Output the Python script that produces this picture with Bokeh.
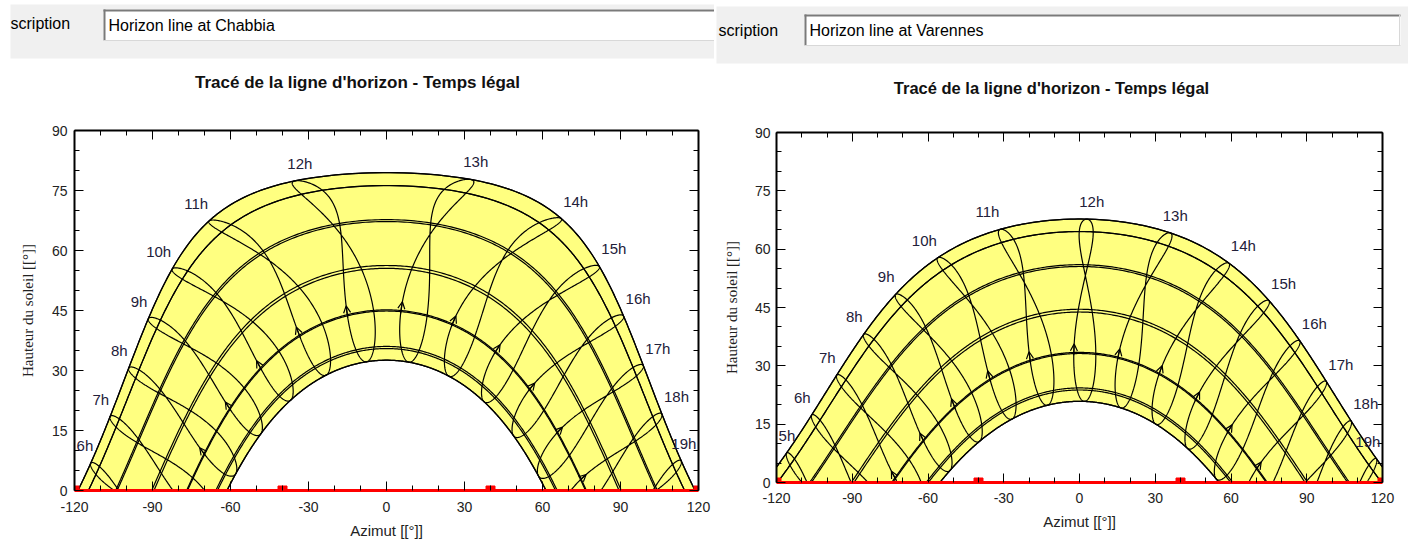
import numpy as np
from bokeh.plotting import figure
from bokeh.models import (Range1d, LinearAxis, FixedTicker, ColumnDataSource,
                          LabelSet, Arrow, OpenHead)
from bokeh.layouts import column, row
from bokeh.core.properties import value
from bokeh.embed import file_html
from bokeh.resources import INLINE

# ---------------- data ----------------
header_label = "scription"
site_descriptions = ["Horizon line at Chabbia", "Horizon line at Varennes"]
chart_title = "Tracé de la ligne d'horizon - Temps légal"
x_label = "Azimut [[°]]"
y_label = "Hauteur du soleil [[°]]"

site_latitudes = [34.0, 45.7]        # deg N (read from noon heights of the June / December paths)
site_time_shift_min = [-30.0, 6.3]   # legal time -> solar time longitude shift, minutes

# sun-path lines (day of year): 22 Jun, 22 May / 23 Jul, 20 Apr / 23 Aug,
# 20 Mar / 23 Sep, 21 Feb / 23 Oct, 19 Jan / 22 Nov, 22 Dec
path_days = [173, 142, 204, 110, 235, 79, 266, 52, 296, 19, 326, 356]
summer_day = 173
winter_day = 356
hour_lines = [4, 5, 6, 7, 8, 9, 10, 11, 12, 13, 14, 15, 16, 17, 18, 19, 20]
hour_label_sets = [[6, 7, 8, 9, 10, 11, 12, 13, 14, 15, 16, 17, 18, 19],
                   [5, 6, 7, 8, 9, 10, 11, 12, 13, 14, 15, 16, 17, 18, 19]]
arrow_days = [50, 58]

x_ticks = [-120, -90, -60, -30, 0, 30, 60, 90, 120]
x_tick_labels = ["-120", "-90", "-60", "-30", "0", "30", "60", "90", "120"]
x_minor = [-110, -100, -80, -70, -50, -40, -20, -10, 10, 20, 40, 50, 70, 80, 100, 110]
y_ticks = [0, 15, 30, 45, 60, 75, 90]
y_tick_labels = ["0", "15", "30", "45", "60", "75", "90"]
y_minor = [5, 10, 20, 25, 35, 40, 50, 55, 65, 70, 80, 85]
horizon_az = [-120, -40, 40, 120]
horizon_h = [0, 0, 0, 0]

FONT = "Liberation Sans"
FILL = "#ffff80"


def no_align(fig):
    if "frame_align" in fig.properties():
        fig.frame_align = False
    return fig


# ---------------- solar geometry ----------------
def declination(n):
    g = 2 * np.pi * (np.asarray(n, dtype=float) - 1) / 365.0
    d = (0.006918 - 0.399912 * np.cos(g) + 0.070257 * np.sin(g)
         - 0.006758 * np.cos(2 * g) + 0.000907 * np.sin(2 * g)
         - 0.002697 * np.cos(3 * g) + 0.00148 * np.sin(3 * g))
    return np.degrees(d)


def equation_of_time(n):
    g = 2 * np.pi * (np.asarray(n, dtype=float) - 1) / 365.0
    return 229.18 * (0.000075 + 0.001868 * np.cos(g) - 0.032077 * np.sin(g)
                     - 0.014615 * np.cos(2 * g) - 0.040849 * np.sin(2 * g))


def sun_position(lat, dec, H):
    phi, d, h = np.radians(lat), np.radians(dec), np.radians(H)
    sa = np.sin(phi) * np.sin(d) + np.cos(phi) * np.cos(d) * np.cos(h)
    alt = np.degrees(np.arcsin(np.clip(sa, -1, 1)))
    az = np.degrees(np.arctan2(np.sin(h), np.cos(h) * np.sin(phi) - np.tan(d) * np.cos(phi)))
    return az, alt


def hour_angle(n, legal_hour, shift):
    solar = legal_hour + (shift + equation_of_time(n)) / 60.0
    return 15.0 * (solar - 12.0)


def day_path(lat, n, npts=400):
    dec = declination(n)
    c = -np.tan(np.radians(lat)) * np.tan(np.radians(dec))
    H0 = np.degrees(np.arccos(np.clip(c, -1, 1)))
    H = np.linspace(-H0, H0, npts)
    az, alt = sun_position(lat, dec, H)
    return az, np.maximum(alt, 0)


# ---------------- headers (one per panel) ----------------
def make_header(x0, x1, height, band, box, label_pos, desc_pos, desc, title_pos, title_size):
    h = figure(width=x1 - x0, height=height, x_range=Range1d(x0, x1), y_range=Range1d(height, 0),
               output_backend="svg", toolbar_location=None, min_border=0,
               x_axis_location=None, y_axis_location=None)
    no_align(h)
    h.grid.visible = False
    h.outline_line_color = None
    h.quad(left=[band[0]], right=[band[1]], top=[band[2]], bottom=[band[3]],
           fill_color="#f0f0f0", line_color=None)
    bl, br, bt, bb = box
    h.quad(left=[bl], right=[br], top=[bt], bottom=[bb], fill_color="white", line_color=None)
    h.segment(x0=[bl, bl + 1], y0=[bt + 1, bt], x1=[br, bl + 1], y1=[bt + 1, bb],
              line_color="#7a7a7a", line_width=2)
    h.segment(x0=[bl, br - 1], y0=[bb, bt], x1=[br, br - 1], y1=[bb, bb],
              line_color="#d8d8d8", line_width=1)
    h.text(x=[label_pos[0]], y=[label_pos[1]], text=[header_label],
           text_font=value(FONT), text_font_size="16px", text_baseline="middle",
           text_align="left", text_color="#000000")
    h.text(x=[desc_pos[0]], y=[desc_pos[1]], text=[desc],
           text_font=value(FONT), text_font_size="16px", text_baseline="middle",
           text_align="left", text_color="#000000")
    h.text(x=[title_pos[0]], y=[title_pos[1]], text=[chart_title], text_font=value(FONT),
           text_font_size=title_size, text_font_style="bold", text_baseline="middle",
           text_align="center", text_color="#111111")
    return h


hdr_left = make_header(0, 714, 100, (10, 714, 4, 58), (103, 730, 9, 40), (10, 23), (108, 25),
                       site_descriptions[0], (357, 82), "17px")
hdr_right = make_header(714, 1408, 102, (716, 1408, 6, 63), (804, 1400, 14, 45), (718, 30), (809, 30),
                        site_descriptions[1], (1051, 87), "16.5px")


# ---------------- charts ----------------
def make_chart(i, width, height, bl, br, bt, bb, xstand, xlabstand, ystand, ylabstand):
    lat = site_latitudes[i]
    shift = site_time_shift_min[i]
    p = figure(width=width, height=height, x_range=Range1d(-120, 120), y_range=Range1d(0, 90),
               output_backend="svg", toolbar_location=None,
               min_border_left=bl, min_border_right=br, min_border_top=bt, min_border_bottom=bb)
    no_align(p)
    p.grid.visible = False
    p.outline_line_color = None
    p.background_fill_color = "white"
    frame_w = width - bl - br
    scale = frame_w / 240.0

    # yellow band between June and December paths
    az_s, alt_s = day_path(lat, summer_day)
    az_w, alt_w = day_path(lat, winter_day)
    p.patch(np.concatenate([az_s, az_w[::-1]]), np.concatenate([alt_s, alt_w[::-1]]),
            fill_color=FILL, line_color="black", line_width=1.3)

    # daily sun paths
    xs, ys = [], []
    for n in path_days:
        a, h = day_path(lat, n)
        xs.append(a)
        ys.append(h)
    p.multi_line(xs, ys, line_color="black", line_width=1.2)

    # hour lines (analemmas)
    days = np.append(np.arange(1, 366), 1)
    dec = declination(days)
    for hr in hour_lines:
        a, h = sun_position(lat, dec, hour_angle(days, hr, shift))
        a = np.where(h >= 0, a, np.nan)
        h = np.where(h >= 0, h, np.nan)
        p.line(a, h, line_color="black", line_width=1.2)

    # direction arrows
    xs0, ys0, xs1, ys1 = [], [], [], []
    for hr in hour_lines:
        a0, h0 = sun_position(lat, declination(arrow_days[0]), hour_angle(arrow_days[0], hr, shift))
        a1, h1 = sun_position(lat, declination(arrow_days[1]), hour_angle(arrow_days[1], hr, shift))
        if h0 > 0.5 and -120 < a1 < 120:
            xs0.append(float(a0)); ys0.append(float(h0)); xs1.append(float(a1)); ys1.append(float(h1))
    asrc = ColumnDataSource(dict(xs=xs0, ys=ys0, xe=xs1, ye=ys1))
    p.add_layout(Arrow(x_start="xs", y_start="ys", x_end="xe", y_end="ye", source=asrc,
                       line_width=1.2, line_color="black",
                       end=OpenHead(size=7, line_width=1.2, line_color="black")))

    # hour labels on the June path (kept inside the frame)
    groups = {"right": {}, "center": {}, "left": {}}
    for g in groups.values():
        g.update(x=[], y=[], t=[], dx=[])
    dec_s = declination(summer_day)
    base = {"right": -1, "center": 5, "left": 2}
    for hr in hour_label_sets[i]:
        H = hour_angle(summer_day, hr, shift)
        a, h = sun_position(lat, dec_s, H)
        key = "right" if H < -12 else ("left" if H > 18 else "center")
        txt = f"{hr}h"
        w = 8.4 * len(txt)
        px = (float(a) + 120) * scale + base[key]
        lft = px - (w if key == "right" else (w / 2 if key == "center" else 0))
        dx = base[key]
        if lft < 2:
            dx += 2 - lft
        if lft + w > frame_w - 2:
            dx -= lft + w - (frame_w - 2)
        g = groups[key]
        g["x"].append(float(a)); g["y"].append(float(h)); g["t"].append(txt); g["dx"].append(dx)
    for key, g in groups.items():
        if not g["x"]:
            continue
        src = ColumnDataSource(g)
        p.add_layout(LabelSet(x="x", y="y", text="t", source=src, text_align=key,
                              text_baseline="bottom", x_offset="dx", y_offset=9,
                              text_font=value(FONT), text_font_size="15px",
                              text_color="#22203a"))

    # horizon line
    p.line(horizon_az, horizon_h, line_color="red", line_width=3)
    p.scatter(horizon_az, horizon_h, marker="square", size=9, fill_color="red", line_color="red")

    # axes
    ax = p.xaxis[0]
    ax.ticker = FixedTicker(ticks=x_ticks, minor_ticks=x_minor)
    ax.major_label_overrides = dict(zip(x_ticks, x_tick_labels))
    ax.axis_line_color = "red"
    ax.axis_line_width = 3
    ax.axis_label = x_label
    ax.axis_label_text_font = FONT
    ax.axis_label_text_font_size = "15px"
    ax.axis_label_text_font_style = "normal"
    ax.axis_label_text_color = "#222222"
    ax.axis_label_standoff = xlabstand
    ax.major_label_standoff = xstand
    ay = p.yaxis[0]
    ay.ticker = FixedTicker(ticks=y_ticks, minor_ticks=y_minor)
    ay.major_label_overrides = dict(zip(y_ticks, y_tick_labels))
    ay.axis_line_color = "black"
    ay.axis_line_width = 2
    ay.axis_label = y_label
    ay.axis_label_text_font = "Liberation Serif"
    ay.axis_label_text_font_size = "15px"
    ay.axis_label_text_font_style = "normal"
    ay.axis_label_text_color = "#222222"
    ay.axis_label_standoff = ylabstand
    ay.major_label_standoff = ystand
    for a_ in (ax, ay):
        a_.major_label_text_font = FONT
        a_.major_label_text_font_size = "14px"
        a_.major_label_text_color = "#222222"
        a_.major_tick_in = 9
        a_.major_tick_out = 0
        a_.minor_tick_in = 5
        a_.minor_tick_out = 0
        a_.major_tick_line_color = "black"
        a_.minor_tick_line_color = "black"

    top = LinearAxis(ticker=FixedTicker(ticks=x_ticks, minor_ticks=x_minor),
                     major_label_overrides={t: "" for t in x_ticks},
                     major_label_text_font_size="0px", major_label_standoff=0,
                     major_tick_in=9, major_tick_out=0, minor_tick_in=5, minor_tick_out=0,
                     axis_line_color="black", axis_line_width=2)
    p.add_layout(top, "above")
    rgt = LinearAxis(ticker=FixedTicker(ticks=y_ticks, minor_ticks=y_minor),
                     major_label_overrides={t: "" for t in y_ticks},
                     major_label_text_font_size="0px", major_label_standoff=0,
                     major_tick_in=9, major_tick_out=0, minor_tick_in=5, minor_tick_out=0,
                     axis_line_color="black", axis_line_width=2)
    p.add_layout(rgt, "right")
    return p


left = make_chart(0, 714, 441, 74, 16, 30, 49, 11, 7, 7, 13)
right = make_chart(1, 694, 430, 62, 26, 30, 49, 10, 7, 6, 12)

layout = row(column(hdr_left, left, spacing=0), column(hdr_right, right, spacing=0), spacing=0)
open("out.html", "w").write(file_html(layout, INLINE))
